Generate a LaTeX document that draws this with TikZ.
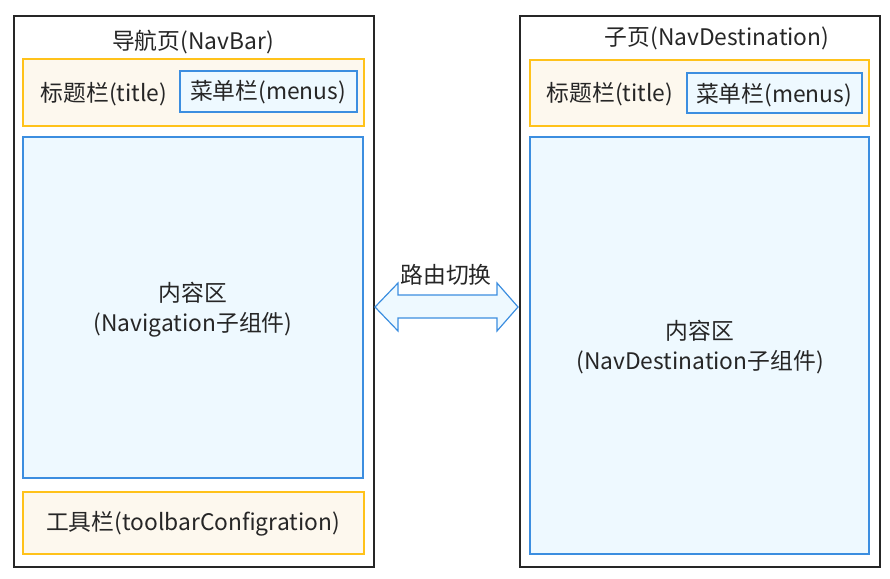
\documentclass[tikz,border=0pt]{standalone}
\usepackage{fontspec}
\setmainfont{Noto Sans CJK SC}
\begin{document}
\begin{tikzpicture}[x=1pt,y=-1pt,
  outerbox/.style={draw=black!85,line width=1.2pt},
  barbox/.style={draw=orangeb,fill=orangef,line width=1.2pt},
  bluebox/.style={draw=blueb,fill=bluef,line width=1.2pt},
  lbl/.style={font=\fontsize{22.8}{30}\selectfont,text=black!85,inner sep=0pt},
]
\definecolor{orangeb}{HTML}{FFC21A}
\definecolor{orangef}{HTML}{FDF8EE}
\definecolor{blueb}{HTML}{3C8EE0}
\definecolor{bluef}{HTML}{EEF9FF}
\useasboundingbox (0,0) rectangle (890,578);
% left page
\draw[outerbox] (14,16) rectangle (374,567);
\node[lbl] (lt) at (193,42) {导航页(NavBar)};
\draw[barbox] (23,59) rectangle (364,126);
\node[lbl] (ltitle) at (104,94) {标题栏(title)};
\draw[bluebox] (180,71) rectangle (357,112);
\node[lbl] (lmenu) at (268,92) {菜单栏(menus)};
\draw[bluebox] (23,137) rectangle (363,478);
\node[lbl,align=center] (lcontent) at (193,310) {内容区\\(Navigation子组件)};
\draw[barbox] (23,492) rectangle (364,554);
\node[lbl] (ltool) at (193,524) {工具栏(toolbarConfigration)};
% right page
\draw[outerbox] (520,16) rectangle (880,567);
\node[lbl] (rt) at (717,38) {子页(NavDestination)};
\draw[barbox] (530,60) rectangle (869,126);
\node[lbl] (rtitle) at (610,94) {标题栏(title)};
\draw[bluebox] (687,73) rectangle (862,113);
\node[lbl] (rmenu) at (774,95) {菜单栏(menus)};
\draw[bluebox] (530,137) rectangle (869,554);
\node[lbl,align=center] (rcontent) at (700,347) {内容区\\(NavDestination子组件)};
% arrow
\draw[draw=blueb,fill=bluef,line width=1.2pt,line join=miter]
  (375,307) -- (398,283) -- (398,295) -- (497,295) -- (497,283) -- (518,307)
  -- (497,331) -- (497,318) -- (398,318) -- (398,331) -- cycle;
\node[lbl] (route) at (446,275) {路由切换};
\end{tikzpicture}
\end{document}
